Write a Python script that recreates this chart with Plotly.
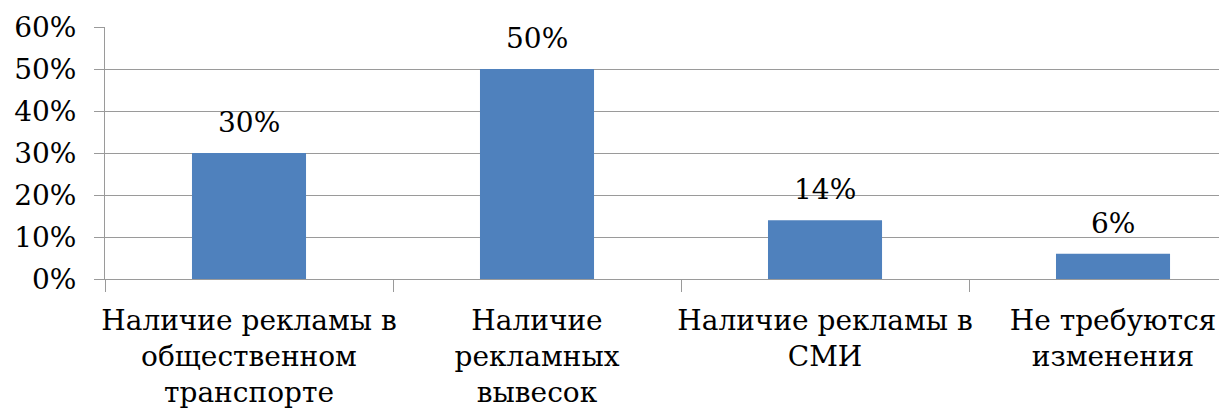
import plotly.graph_objects as go

categories = ["Наличие рекламы в<br>общественном<br>транспорте",
              "Наличие<br>рекламных<br>вывесок",
              "Наличие рекламы в<br>СМИ",
              "Не требуются<br>изменения"]
values = [30, 50, 14, 6]
value_labels = ["30%", "50%", "14%", "6%"]
y_ticks = [0, 10, 20, 30, 40, 50, 60]
y_tick_labels = ["0%", "10%", "20%", "30%", "40%", "50%", "60%"]

FONT = "DejaVu Serif"
GRID = "#9a9a9a"

fig = go.Figure()
fig.add_trace(go.Bar(x=categories, y=values, marker=dict(color="#4F81BD", line=dict(width=0)),
                     hoverinfo="skip"))

for c, v, t in zip(categories, values, value_labels):
    fig.add_annotation(x=c, y=v, text=t, showarrow=False, yanchor="bottom", yshift=12,
                       font=dict(family=FONT, size=28, color="#000000"))

fig.update_layout(
    width=1219, height=419,
    margin=dict(l=105, r=0, t=27, b=140),
    paper_bgcolor="white", plot_bgcolor="white",
    bargap=0.604, showlegend=False,
    font=dict(family=FONT, size=27, color="#000000"),
)
fig.update_xaxes(
    type="category", range=[-0.5, 3.368], tickson="boundaries",
    ticks="outside", ticklen=12, tickcolor=GRID, tickwidth=1,
    showline=True, linecolor=GRID, linewidth=1, showgrid=False,
    ticklabelstandoff=16,
    tickfont=dict(family=FONT, size=28, color="#000000"), tickangle=0,
)
fig.update_yaxes(
    range=[0, 60], tickvals=y_ticks, ticktext=y_tick_labels,
    ticks="outside", ticklen=10, tickcolor=GRID, tickwidth=1,
    showline=True, linecolor=GRID, linewidth=1,
    showgrid=True, gridcolor=GRID, gridwidth=1, zeroline=False,
    ticklabelstandoff=12,
    tickfont=dict(family=FONT, size=28, color="#000000"),
)

fig.write_html("out.html")
